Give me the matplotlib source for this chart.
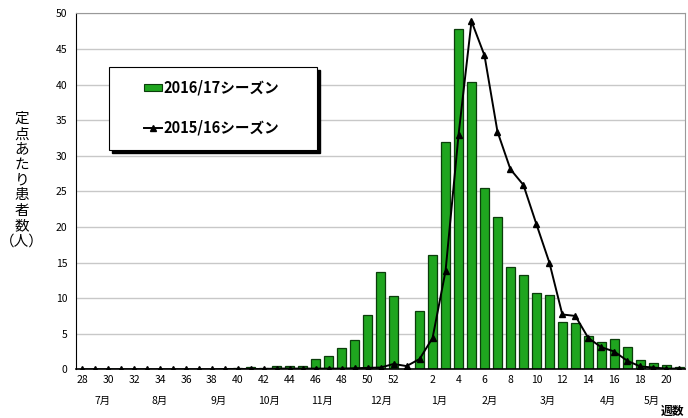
import matplotlib
matplotlib.use("Agg")
import matplotlib.pyplot as plt
from matplotlib.patches import Rectangle
from matplotlib.lines import Line2D

plt.rcParams["font.family"] = ["Noto Sans CJK JP", "DejaVu Sans"]

# week sequence: 28..53 then 1..21
weeks = list(range(28, 54)) + list(range(1, 22))
tick_labels = [str(w) if (w % 2 == 0 and w <= 52) else "" for w in weeks]

# 2016/17 season (bars); week 53 has no value
season_1617 = [0.05, 0.05, 0.05, 0.05, 0.05, 0.05, 0.05, 0.05, 0.05, 0.05, 0.05, 0.1,
               0.2, 0.3, 0.2, 0.4, 0.4, 0.5, 1.4, 1.9, 3.0, 4.1, 7.6, 13.6, 10.3, None,
               8.2, 16.0, 32.0, 47.8, 40.4, 25.4, 21.4, 14.4, 13.3, 10.7, 10.5, 6.7,
               6.5, 4.7, 3.9, 4.3, 3.1, 1.3, 0.9, 0.6, 0.35]

# 2015/16 season (line)
season_1516 = [0.0, 0.0, 0.0, 0.0, 0.0, 0.0, 0.0, 0.0, 0.0, 0.0, 0.0, 0.05,
               0.05, 0.05, 0.05, 0.1, 0.1, 0.1, 0.1, 0.1, 0.1, 0.15, 0.2, 0.25, 0.75, 0.45,
               1.45, 4.4, 13.8, 32.9, 48.9, 44.1, 33.4, 28.1, 25.9, 20.4, 15.0, 7.7,
               7.5, 4.4, 3.1, 2.5, 1.2, 0.4, 0.25, 0.1, 0.1]

series_names = ["2016/17シーズン", "2015/16シーズン"]
months = ["7月", "8月", "9月", "10月", "11月", "12月", "1月", "2月", "3月", "4月", "5月"]
month_pos = [1.55, 5.96, 10.5, 14.4, 18.5, 23.0, 27.5, 31.4, 35.9, 40.5, 43.9]

BAR_C, BAR_E = "#1fa51f", "#0b3d0b"

fig = plt.figure(figsize=(6.88, 4.18), dpi=100)
ax = fig.add_axes([0.110, 0.1165, 0.8856, 0.8515])

x = list(range(len(weeks)))
bx = [i for i, v in zip(x, season_1617) if v is not None]
bv = [v for v in season_1617 if v is not None]
ax.bar(bx, bv, width=0.68, color=BAR_C, edgecolor=BAR_E, linewidth=0.9, zorder=2)
ax.plot(x, season_1516, color="black", linewidth=1.4, marker="^", markersize=4, zorder=3)

ax.set_xlim(-0.5, 46.45)
ax.set_ylim(0, 50)
ax.set_yticks(range(0, 51, 5))
ax.set_xticks(x)
ax.set_xticklabels(tick_labels, fontsize=7.5)
ax.tick_params(axis="both", length=0, labelsize=7.5)
ax.tick_params(axis="y", pad=6)
ax.tick_params(axis="x", pad=4)
ax.grid(axis="y", color="#c8c8c8", linewidth=1.0, zorder=0)
ax.set_axisbelow(True)
for s in ("top", "right"):
    ax.spines[s].set_color("#999999")
ax.spines["bottom"].set_linewidth(1.2)

for m, p in zip(months, month_pos):
    ax.text(p, -4.4, m, ha="center", va="center", fontsize=7.5)
ax.text(46.4, -5.95, "週数", ha="right", va="center", fontsize=8.5, fontweight="bold")

fig.text(0.032, 0.569, "定\n点\nあ\nた\nり\n患\n者\n数\n（人）", ha="center", va="center",
         fontsize=10.5, linespacing=1.12)

# legend box drawn by hand (axes fraction), with solid drop shadow
tr = ax.transAxes
x0, x1, yb, yt = 0.0547, 0.396, 0.616, 0.850
dx, dy = 3 / 609.3, 3 / 356.0
ax.add_patch(Rectangle((x0 + dx, yb - dy), x1 - x0, yt - yb, transform=tr,
                       facecolor="black", edgecolor="black", zorder=5, clip_on=False))
ax.add_patch(Rectangle((x0, yb), x1 - x0, yt - yb, transform=tr, facecolor="white",
                       edgecolor="black", linewidth=0.8, zorder=6, clip_on=False))
hx0, hx1 = 0.1121, 0.1416
ax.add_patch(Rectangle((hx0, 0.7916 - 0.0089), hx1 - hx0, 0.0178, transform=tr,
                       facecolor=BAR_C, edgecolor=BAR_E, linewidth=0.8, zorder=7))
ax.add_line(Line2D([hx0, hx1], [0.678, 0.678], transform=tr, color="black",
                   linewidth=1.4, zorder=7))
ax.add_line(Line2D([(hx0 + hx1) / 2], [0.678], transform=tr, color="black",
                   marker="^", markersize=4, zorder=7))
for name, yy in zip(series_names, [0.7916, 0.678]):
    ax.text(hx1 + 0.002, yy, name, transform=tr, ha="left", va="center",
            fontsize=10.5, fontweight="bold", zorder=8)

fig.savefig("out.png", dpi=100)
